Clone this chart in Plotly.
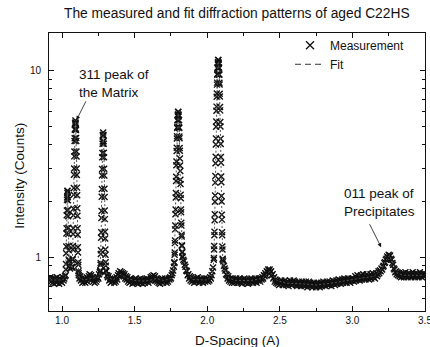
import numpy as np
import plotly.graph_objects as go

# ---------------- data (D-spacing in A, intensity in counts) ----------------
# Measured pattern, stored as segments: (first d, last d, intensities at even spacing)
bg_0920_1020 = [0.78, 0.74, 0.77, 0.73, 0.76, 0.72, 0.77, 0.75, 0.73, 0.78,
                0.74, 0.76, 0.72, 0.77, 0.74, 0.76, 0.73, 0.78, 0.75, 0.77, 0.79]
peak_1037 = [0.80, 0.86, 0.92, 1.05, 1.14, 1.34, 1.43, 1.68, 1.78, 2.03, 2.09, 2.26, 2.21,
             2.27, 2.10, 2.02, 1.79, 1.66, 1.44, 1.33, 1.15, 1.09, 0.97, 0.96, 0.89]
bg_1050_1065 = [0.90, 0.87, 0.91, 0.88]
peak_1092 = [0.89, 0.88, 0.97, 0.98, 1.10, 1.15, 1.33, 1.43, 1.68, 1.82, 2.16, 2.35, 2.77,
             2.99, 3.47, 3.68, 4.20, 4.34, 4.82, 4.87, 5.26, 5.15, 5.40, 5.16, 5.25, 4.88,
             4.81, 4.35, 4.19, 3.69, 3.46, 2.99, 2.76, 2.36, 2.15, 1.83, 1.67, 1.43, 1.32,
             1.13, 1.06, 0.94, 0.91, 0.84, 0.82]
bg_1115_1260 = [0.80, 0.77, 0.79, 0.75, 0.77, 0.73, 0.76, 0.74, 0.77, 0.73,
                0.75, 0.78, 0.74, 0.77, 0.79, 0.81, 0.78, 0.80, 0.76, 0.78,
                0.74, 0.76, 0.73, 0.77, 0.74, 0.76, 0.78, 0.77, 0.81, 0.83]
peak_1283 = [0.84, 0.85, 0.91, 0.93, 1.04, 1.09, 1.27, 1.36, 1.62, 1.77, 2.11, 2.32, 2.74,
             2.97, 3.43, 3.62, 4.06, 4.17, 4.52, 4.48, 4.66, 4.49, 4.52, 4.18, 4.05, 3.63,
             3.43, 2.98, 2.74, 2.33, 2.10, 1.78, 1.60, 1.37, 1.26, 1.10, 1.03, 0.94, 0.90,
             0.85, 0.84]
bg_1305_1770 = [0.84, 0.80, 0.78, 0.79, 0.75, 0.77, 0.73, 0.76, 0.74, 0.77,
                0.75, 0.73, 0.76, 0.74, 0.78, 0.76, 0.80, 0.82, 0.79, 0.84,
                0.81, 0.83, 0.80, 0.82, 0.79, 0.81, 0.77, 0.79, 0.76, 0.78,
                0.74, 0.76, 0.73, 0.77, 0.74, 0.76, 0.72, 0.75, 0.73, 0.76,
                0.74, 0.77, 0.73, 0.75, 0.72, 0.76, 0.74, 0.77, 0.73, 0.75,
                0.72, 0.76, 0.74, 0.73, 0.76, 0.74, 0.77, 0.75, 0.73, 0.76,
                0.75, 0.78, 0.76, 0.79, 0.77, 0.80, 0.77, 0.79, 0.75, 0.77,
                0.74, 0.76, 0.73, 0.75, 0.72, 0.76, 0.74, 0.77, 0.73, 0.75,
                0.74, 0.77, 0.75, 0.73, 0.76, 0.74, 0.77, 0.76, 0.78, 0.77,
                0.80, 0.82, 0.85, 0.89]
peak_1800 = [0.93, 0.94, 1.03, 1.06, 1.19, 1.23, 1.41, 1.48, 1.70, 1.80, 2.09, 2.21, 2.56,
             2.70, 3.11, 3.26, 3.71, 3.86, 4.33, 4.45, 4.92, 4.98, 5.43, 5.41, 5.80, 5.69,
             6.00, 5.82, 6.01, 5.68, 5.79, 5.42, 5.44, 4.97, 4.93, 4.44, 4.34, 3.85, 3.72,
             3.38, 3.10, 2.90, 2.60, 2.47, 2.16, 2.07, 1.80, 1.74, 1.53, 1.48, 1.32, 1.29,
             1.16, 1.15, 1.06, 1.07, 1.00, 1.01]
bg_1835_2040 = [0.97, 0.95, 0.91, 0.89, 0.85, 0.84, 0.80, 0.81, 0.77, 0.79,
                0.75, 0.78, 0.74, 0.77, 0.75, 0.73, 0.76, 0.74, 0.77, 0.75,
                0.78, 0.76, 0.73, 0.75, 0.77, 0.74, 0.76, 0.73, 0.75, 0.77,
                0.74, 0.76, 0.75, 0.77, 0.74, 0.76, 0.75, 0.78, 0.77, 0.80,
                0.84, 0.88]
peak_2076 = [0.97, 0.99, 1.10, 1.15, 1.31, 1.37, 1.58, 1.70, 1.98, 2.14, 2.51, 2.72, 3.19,
             3.45, 4.02, 4.33, 5.00, 5.33, 6.10, 6.41, 7.25, 7.53, 8.41, 8.62, 9.49, 9.58,
             10.38, 10.33, 11.04, 10.81, 11.38, 11.05, 11.40, 10.84, 11.02, 10.31, 10.40,
             9.56, 9.51, 8.60, 8.43, 7.51, 7.27, 6.39, 6.12, 5.31, 5.02, 4.31, 4.04, 3.44,
             3.21, 2.71, 2.52, 2.13, 1.99, 1.69, 1.59, 1.36, 1.31, 1.14, 1.10, 0.98, 0.97]
bg_2110_3500 = [0.95, 0.90, 0.87, 0.85, 0.81, 0.80, 0.77, 0.79, 0.75, 0.77,
                0.74, 0.76, 0.73, 0.77, 0.75, 0.73, 0.76, 0.74, 0.77,
                0.75, 0.73, 0.76, 0.74, 0.77, 0.73, 0.75, 0.72, 0.76, 0.74,
                0.77, 0.75, 0.73, 0.76, 0.74, 0.72, 0.75, 0.73, 0.76, 0.74,
                0.77, 0.75, 0.73, 0.76, 0.74, 0.77, 0.75, 0.73, 0.76, 0.75,
                0.77, 0.76, 0.74, 0.77, 0.76, 0.78, 0.77, 0.80, 0.79, 0.82,
                0.80, 0.84, 0.83, 0.86, 0.84, 0.86, 0.83, 0.84, 0.80, 0.81,
                0.77, 0.78, 0.74, 0.76, 0.73, 0.75, 0.72, 0.74, 0.71, 0.74,
                0.72, 0.75, 0.73, 0.71, 0.74, 0.72, 0.75, 0.73, 0.71, 0.74,
                0.72, 0.70, 0.73, 0.75, 0.72, 0.74, 0.71, 0.73, 0.75, 0.72,
                0.74, 0.71, 0.73, 0.70, 0.72, 0.74, 0.71, 0.73, 0.70, 0.72,
                0.74, 0.71, 0.73, 0.70, 0.72, 0.74, 0.71, 0.69, 0.72, 0.74,
                0.71, 0.73, 0.70, 0.72, 0.69, 0.71, 0.73, 0.70, 0.72, 0.69,
                0.71, 0.73, 0.70, 0.72, 0.69, 0.71, 0.73, 0.70, 0.72, 0.74,
                0.71, 0.73, 0.70, 0.72, 0.74, 0.71, 0.73, 0.71, 0.74, 0.72,
                0.70, 0.73, 0.75, 0.72, 0.74, 0.71, 0.73, 0.75, 0.72, 0.74,
                0.76, 0.73, 0.75, 0.72, 0.74, 0.76, 0.73, 0.75, 0.77, 0.74,
                0.76, 0.73, 0.75, 0.77, 0.74, 0.76, 0.73, 0.75, 0.77, 0.75,
                0.77, 0.74, 0.76, 0.79, 0.75, 0.77, 0.80, 0.76, 0.78, 0.75,
                0.77, 0.80, 0.76, 0.78, 0.81, 0.77, 0.79, 0.76, 0.78, 0.81,
                0.77, 0.79, 0.76, 0.78, 0.81, 0.77, 0.79, 0.82, 0.78, 0.80,
                0.77, 0.80, 0.82, 0.79, 0.81, 0.84, 0.82, 0.85, 0.84, 0.87,
                0.86, 0.89, 0.90, 0.93, 0.94, 0.97, 0.98, 1.01, 0.99, 1.03,
                1.01, 1.02, 0.98, 0.97, 0.93, 0.91, 0.87, 0.86, 0.83, 0.84,
                0.81, 0.83, 0.80, 0.82, 0.79, 0.81, 0.78, 0.81, 0.79, 0.82,
                0.78, 0.80, 0.83, 0.79, 0.81, 0.78, 0.80, 0.82, 0.79, 0.81,
                0.78, 0.80, 0.83, 0.79, 0.81, 0.78, 0.80, 0.82, 0.79, 0.81,
                0.78, 0.80, 0.83, 0.79, 0.81, 0.78, 0.80, 0.82, 0.79, 0.81]

measured_segments = [
    (0.920, 1.020, bg_0920_1020),
    (1.025, 1.049, peak_1037),
    (1.050, 1.065, bg_1050_1065),
    (1.070, 1.114, peak_1092),
    (1.115, 1.260, bg_1115_1260),
    (1.263, 1.303, peak_1283),
    (1.305, 1.770, bg_1305_1770),
    (1.773, 1.830, peak_1800),
    (1.835, 2.040, bg_1835_2040),
    (2.045, 2.107, peak_2076),
    (2.110, 3.500, bg_2110_3500),
]

# Fitted profile
fit_d = [0.92, 0.95, 1.00, 1.02, 1.025, 1.029, 1.033, 1.037, 1.041, 1.045, 1.049,
         1.055, 1.062, 1.070, 1.074, 1.078, 1.082, 1.086, 1.090, 1.092, 1.094, 1.098,
         1.102, 1.106, 1.110, 1.114, 1.12, 1.15, 1.20, 1.25, 1.263, 1.267, 1.271, 1.275,
         1.279, 1.283, 1.287, 1.291, 1.295, 1.299, 1.303, 1.31, 1.35, 1.40, 1.45, 1.50,
         1.55, 1.60, 1.65, 1.70, 1.75, 1.773, 1.776, 1.780, 1.784, 1.788, 1.792, 1.796,
         1.800, 1.804, 1.808, 1.812, 1.816, 1.820, 1.824, 1.830, 1.84, 1.86, 1.90, 1.95,
         2.00, 2.03, 2.045, 2.050, 2.054, 2.058, 2.062, 2.066, 2.070, 2.074, 2.076, 2.078,
         2.082, 2.086, 2.090, 2.094, 2.098, 2.102, 2.107, 2.12, 2.15, 2.20, 2.30, 2.38,
         2.43, 2.48, 2.55, 2.65, 2.75, 2.85, 2.95, 3.05, 3.15, 3.20, 3.23, 3.255, 3.28,
         3.31, 3.35, 3.42, 3.50]
fit_counts = [0.755, 0.755, 0.755, 0.77, 0.80, 1.15, 1.82, 2.25, 1.82, 1.17, 0.90,
              0.89, 0.91, 0.87, 1.08, 1.64, 2.71, 4.11, 5.15, 5.30, 5.15, 4.11,
              2.71, 1.64, 1.04, 0.81, 0.78, 0.755, 0.77, 0.78, 0.83, 1.02, 1.58, 2.69,
              3.99, 4.60, 3.99, 2.69, 1.58, 1.02, 0.83, 0.79, 0.755, 0.81, 0.77, 0.75,
              0.745, 0.75, 0.77, 0.75, 0.77, 0.91, 1.08, 1.51, 2.26, 3.33, 4.54, 5.52,
              5.90, 5.52, 4.54, 3.38, 2.42, 1.70, 1.26, 1.00, 0.94, 0.83, 0.76, 0.755,
              0.755, 0.79, 0.95, 1.40, 2.19, 3.52, 5.43, 7.68, 9.77, 11.03, 11.20, 11.03,
              9.77, 7.68, 5.43, 3.52, 2.19, 1.40, 0.95, 0.86, 0.77, 0.75, 0.75, 0.77,
              0.84, 0.75, 0.725, 0.72, 0.71, 0.725, 0.75, 0.77, 0.79, 0.86, 0.96, 1.02, 0.92,
              0.82, 0.80, 0.80, 0.80]

x_tick_labels = ["1.0", "1.5", "2.0", "2.5", "3.0", "3.5"]
x_tick_values = [1.0, 1.5, 2.0, 2.5, 3.0, 3.5]
y_tick_labels = ["1", "10"]
y_tick_values = [1, 10]
y_minor_values = [0.6, 0.7, 0.8, 0.9, 2, 3, 4, 5, 6, 7, 8, 9]

# ---------------- assemble ----------------
meas_d = np.concatenate([np.linspace(a, b, len(v)) for a, b, v in measured_segments])
meas_counts = np.concatenate([np.asarray(v, dtype=float) for _, _, v in measured_segments])

FONT = "Liberation Sans, Arial, Helvetica, sans-serif"
INK = "#111111"

fig = go.Figure()
fig.add_trace(go.Scatter(
    x=meas_d, y=meas_counts, mode="markers", name="Measurement", showlegend=False,
    marker=dict(symbol="x-thin", size=6, line=dict(width=1.4, color=INK), color=INK),
))
fig.add_trace(go.Scatter(
    x=fit_d, y=fit_counts, mode="lines", name="Fit", showlegend=False,
    line=dict(color="#555555", width=1, dash="2px,2px"),
))
# legend entries
fig.add_trace(go.Scatter(
    x=[None], y=[None], mode="markers", name="Measurement",
    marker=dict(symbol="x-thin", size=8, line=dict(width=1.3, color=INK), color=INK),
))
fig.add_trace(go.Scatter(
    x=[None], y=[None], mode="lines", name="Fit",
    line=dict(color="#333333", width=1, dash="6px,4px"),
))

axis_common = dict(
    showline=True, linecolor=INK, linewidth=1, mirror="ticks",
    ticks="inside", ticklen=5, tickwidth=1, tickcolor=INK,
    showgrid=False, zeroline=False, ticklabeloverflow="allow", automargin=False,
    tickfont=dict(family=FONT, size=10, color=INK),
)

fig.update_xaxes(
    range=[0.91, 3.5], tickvals=x_tick_values, ticktext=x_tick_labels,
    minor=dict(dtick=0.25, tick0=1.0, ticks="inside", ticklen=3, tickcolor=INK, showgrid=False),
    **axis_common,
)
fig.update_yaxes(
    type="log", range=[np.log10(0.515), np.log10(15.9)],
    tickvals=y_tick_values, ticktext=y_tick_labels, ticklabelstandoff=5,
    minor=dict(tickvals=y_minor_values, ticks="inside", ticklen=3, tickcolor=INK, showgrid=False),
    **axis_common,
)

annotations = [
    dict(text="The measured and fit diffraction patterns of aged C22HS",
         xref="paper", yref="paper", x=0.5, y=1.0684, xanchor="center", yanchor="middle",
         showarrow=False, font=dict(family=FONT, size=13.8, color=INK)),
    dict(text="D-Spacing (A)", xref="paper", yref="paper", x=0.5, y=-0.1055,
         xanchor="center", yanchor="middle", showarrow=False,
         font=dict(family=FONT, size=13.5, color=INK)),
    dict(text="Intensity (Counts)", xref="paper", yref="paper", x=-0.077, y=0.487,
         xanchor="center", yanchor="middle", textangle=-90, showarrow=False,
         font=dict(family=FONT, size=13.5, color=INK)),
    dict(text="311 peak of<br>the Matrix", xref="x", yref="y", x=1.105, y=0.929,
         xanchor="left", yanchor="middle", align="left", showarrow=False,
         font=dict(family=FONT, size=13.5, color=INK)),
    dict(text="", xref="x", yref="y", x=1.100, y=0.736, axref="x", ayref="y",
         ax=1.169, ay=0.843, showarrow=True, arrowhead=2, arrowsize=1, arrowwidth=0.8,
         arrowcolor=INK, standoff=0),
    dict(text="011 peak of<br>Precipitates", xref="x", yref="y", x=2.925, y=0.291,
         xanchor="left", yanchor="middle", align="left", showarrow=False,
         font=dict(family=FONT, size=13.5, color=INK)),
    dict(text="", xref="x", yref="y", x=3.198, y=0.054, axref="x", ayref="y",
         ax=3.113, ay=0.185, showarrow=True, arrowhead=2, arrowsize=1, arrowwidth=0.8,
         arrowcolor=INK, standoff=0),
]

fig.update_layout(
    width=430, height=347,
    margin=dict(l=49, r=5, t=33, b=36, autoexpand=False),
    paper_bgcolor="white", plot_bgcolor="white",
    font=dict(family=FONT, color=INK),
    annotations=annotations,
    legend=dict(x=0.641, y=1.008, xanchor="left", yanchor="top",
                bgcolor="rgba(0,0,0,0)", borderwidth=0,
                font=dict(family=FONT, size=12, color=INK), itemwidth=30),
)

fig.write_html("out.html", config={"displayModeBar": False},
               post_script="document.body.style.margin='0';")
